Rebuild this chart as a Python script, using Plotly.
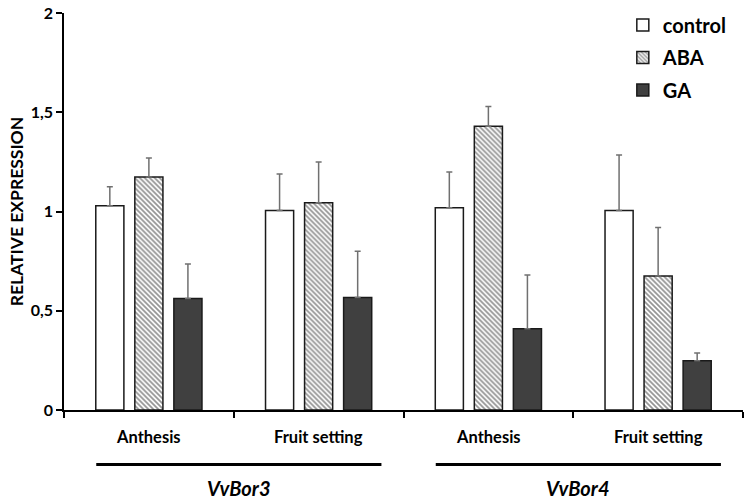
import plotly.graph_objects as go

stages = ["Anthesis", "Fruit setting", "Anthesis", "Fruit setting"]
genes = ["VvBor3", "VvBor4"]
gene_of_stage = [0, 0, 1, 1]
series = ["control", "ABA", "GA"]
control = [1.03, 1.005, 1.02, 1.005]
control_top = [1.125, 1.19, 1.20, 1.285]
aba = [1.175, 1.045, 1.43, 0.675]
aba_top = [1.27, 1.25, 1.53, 0.92]
ga = [0.562, 0.567, 0.41, 0.248]
ga_top = [0.736, 0.80, 0.68, 0.287]
y_ticks = [0, 0.5, 1, 1.5, 2]

FONT = "Lato"
x = list(range(len(stages)))

fig = go.Figure()

def add(name, vals, tops, fill, pattern=None):
    err = [t - v for t, v in zip(tops, vals)]
    marker = dict(color=fill, line=dict(color="#1a1a1a", width=1.5))
    if pattern:
        marker["pattern"] = pattern
    fig.add_trace(go.Bar(
        x=x, y=vals, name=name, legendgroup=name, marker=marker,
        error_y=dict(type="data", symmetric=False, array=err,
                     arrayminus=[0] * len(vals), color="#707070",
                     thickness=1.5, width=3),
    ))

add(series[0], control, control_top, "white")
add(series[1], aba, aba_top, "white",
    dict(shape="\\", size=3.5, solidity=0.5, fgcolor="#2a2a2a", bgcolor="white"))
add(series[2], ga, ga_top, "#404040")

fig.update_layout(
    width=746, height=500,
    margin=dict(l=64, r=3, t=8, b=90),
    plot_bgcolor="white", paper_bgcolor="white",
    barmode="group", bargap=0.31, bargroupgap=0.28,
    separators=", ",
    font=dict(family=FONT, color="black"),
    showlegend=True,
    legend=dict(x=0.823, y=1.019, xanchor="left", yanchor="top",
                font=dict(family=FONT, size=20, weight=700),
                traceorder="grouped", tracegroupgap=3.5,
                bgcolor="rgba(0,0,0,0)", itemwidth=30),
    xaxis=dict(range=[-0.5, len(stages) - 0.5],
               tickvals=[i - 0.5 for i in range(len(stages) + 1)],
               ticktext=[""] * (len(stages) + 1),
               ticks="outside", ticklen=6, tickwidth=1.5, tickcolor="black",
               showline=True, linecolor="black", linewidth=1.5,
               showgrid=False, zeroline=False, fixedrange=True),
    yaxis=dict(range=[0, 2.001], tickvals=y_ticks,
               ticks="outside", ticklen=6, tickwidth=1.5, tickcolor="black",
               showline=True, linecolor="black", linewidth=1.5,
               showgrid=False, zeroline=False, ticksuffix="\u00a0\u00a0",
               tickfont=dict(family=FONT, size=16, weight=700),
               title=dict(text="RELATIVE EXPRESSION", standoff=3,
                          font=dict(family=FONT, size=17.5, weight=700))),
)

for i, s in enumerate(stages):
    fig.add_annotation(x=i, y=-0.067, xref="x", yref="paper", text=s,
                       showarrow=False, yanchor="middle",
                       font=dict(family=FONT, size=16.5, weight=700))

for g, gname in enumerate(genes):
    idx = [i for i, gg in enumerate(gene_of_stage) if gg == g]
    x0, x1 = idx[0] - 0.31, idx[-1] + 0.37
    fig.add_shape(type="line", xref="x", yref="paper", x0=x0, x1=x1,
                  y0=-0.137, y1=-0.137, line=dict(color="black", width=3))
    fig.add_annotation(x=(x0 + x1) / 2, y=-0.197, xref="x", yref="paper",
                       text="<i>" + gname + "</i>", showarrow=False,
                       yanchor="middle",
                       font=dict(family=FONT, size=20, weight=700))

fig.write_html("out.html", config={"displayModeBar": False},
               post_script="document.body.style.margin='0';")
